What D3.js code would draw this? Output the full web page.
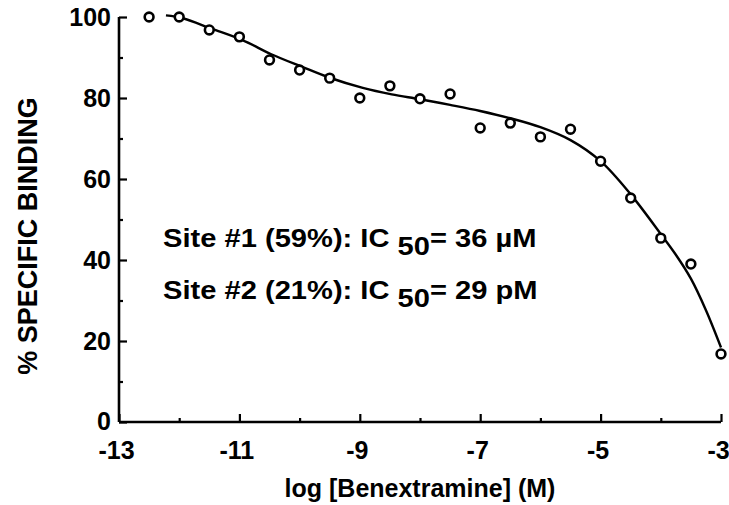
<!DOCTYPE html>
<html><head><meta charset="utf-8">
<script src="https://cdn.jsdelivr.net/npm/d3@7"></script>
<style>
body{margin:0;background:#fff;}
text{font-family:"Liberation Sans",Arial,Helvetica,sans-serif;font-weight:bold;fill:#000;}
</style></head>
<body><svg id="c" width="729" height="505"></svg>
<script>
// data
const logConc = [-12.5,-12,-11.5,-11,-10.5,-10,-9.5,-9,-8.5,-8,-7.5,-7,-6.5,-6,-5.5,-5,-4.5,-4,-3.5,-3];
const binding = [100,100,96.8,95.1,89.4,86.9,84.9,80.0,83.0,79.8,81.0,72.6,73.8,70.4,72.3,64.4,55.3,45.4,39.0,16.8];
const fitX = [-12.22,-11.94,-11.46,-10.95,-10.47,-9.96,-9.5,-8.95,-8.47,-8,-7.5,-7,-6.5,-6,-5.5,-5,-4.5,-4,-3.75,-3.5,-3.25,-3];
const fitY = [100.4,99.7,97.1,94.3,90.8,87.7,85.0,82.5,80.9,79.7,78.3,76.8,75.0,72.8,69.6,64.4,56.2,46.4,41.3,35.4,27.6,18.4];
const xMajor = [-13,-11,-9,-7,-5,-3];
const xMinor = [-12,-10,-8,-6,-4];
const yMajor = [0,20,40,60,80,100];
const yMinor = [10,30,50,70,90];
const annot = [
  {pre:"Site #1 (59%): IC ", sub:"50", post:"= 36 \u00b5M"},
  {pre:"Site #2 (21%): IC ", sub:"50", post:"= 29 pM"}
];

const svg = d3.select("#c");
const x = d3.scaleLinear().domain([-13,-3]).range([119,721]);
const y = d3.scaleLinear().domain([0,100]).range([422,17]);

// axes
const gx = svg.append("g").attr("transform",`translate(0,${y(0)})`)
  .call(d3.axisBottom(x).tickValues(xMajor).tickSize(-8).tickPadding(19).tickFormat(d=>String(d)));
svg.append("g").attr("transform",`translate(0,${y(0)})`)
  .call(d3.axisBottom(x).tickValues(xMinor).tickSize(-4).tickFormat(""));
const gy = svg.append("g").attr("transform",`translate(${x(-13)},0)`)
  .call(d3.axisLeft(y).tickValues(yMajor).tickSize(-8).tickPadding(8).tickFormat(d=>String(d)));
svg.append("g").attr("transform",`translate(${x(-13)},0)`)
  .call(d3.axisLeft(y).tickValues(yMinor).tickSize(-4).tickFormat(""));

svg.selectAll(".domain").remove();
svg.selectAll(".tick line").attr("stroke","#000").attr("stroke-width",2.2);
gx.selectAll("text").attr("font-size",25).attr("dx",-3).style("font-family",null);
gy.selectAll("text").attr("font-size",25).style("font-family",null);
gy.selectAll(".tick").filter(d=>d===0).select("text").attr("dy","0.3em");

svg.append("path")
  .attr("d",`M${x(-13)},${y(0)}H${x(-3)}M${x(-13)},${y(0)}V${y(100)}`)
  .attr("fill","none").attr("stroke","#000").attr("stroke-width",2.6);

// fit curve
const line = d3.line().x(d=>x(d[0])).y(d=>y(d[1])).curve(d3.curveCatmullRom.alpha(0.5));
svg.append("path").datum(fitX.map((v,i)=>[v,fitY[i]]))
  .attr("d",line).attr("fill","none").attr("stroke","#000").attr("stroke-width",2.4);

// points
svg.selectAll("circle.pt").data(logConc.map((v,i)=>[v,binding[i]])).enter()
  .append("circle").attr("class","pt")
  .attr("cx",d=>x(d[0])).attr("cy",d=>y(d[1])).attr("r",4.4)
  .attr("fill","#fff").attr("stroke","#000").attr("stroke-width",2.6);

// annotation
annot.forEach((a,i)=>{
  const t = svg.append("text").attr("transform",`translate(163,${247+i*52}) scale(1.12,1)`).attr("font-size",26);
  t.append("tspan").text(a.pre);
  t.append("tspan").attr("dy",8).text(a.sub);
  t.append("tspan").attr("dy",-8).text(a.post);
});

// axis titles
svg.append("text").attr("x",420).attr("y",497).attr("text-anchor","middle")
  .attr("font-size",25).text("log [Benextramine] (M)");
svg.append("text").attr("transform","translate(37,236) rotate(-90)").attr("text-anchor","middle")
  .attr("font-size",27).text("% SPECIFIC BINDING");
</script></body></html>
